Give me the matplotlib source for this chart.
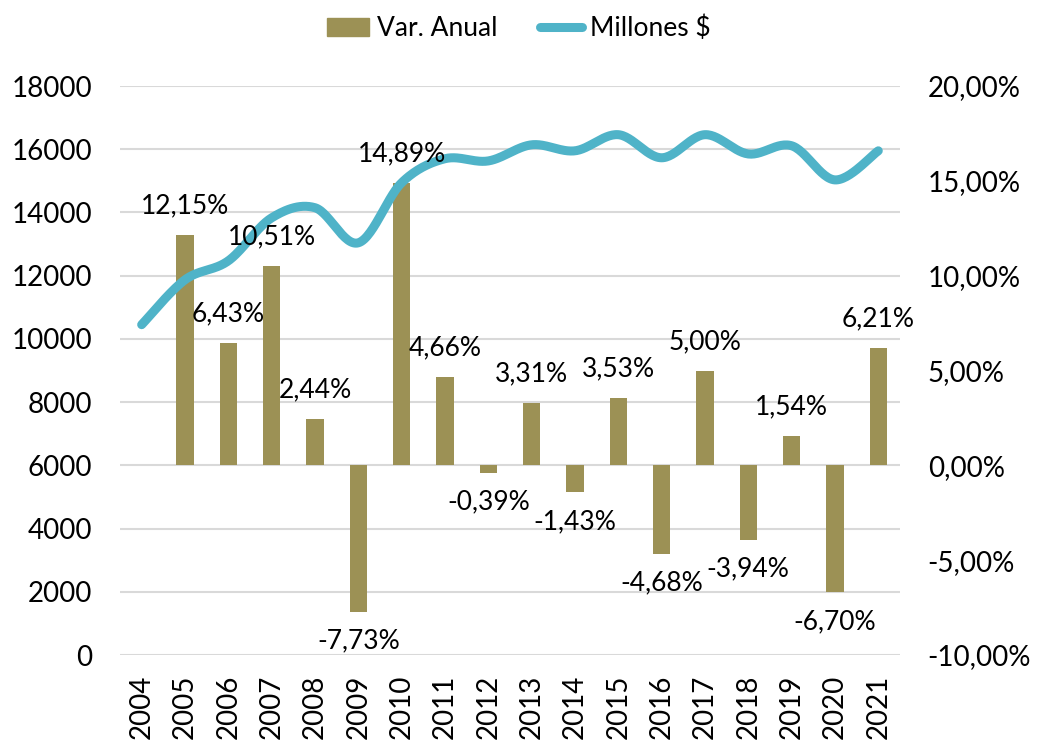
#!/usr/bin/env python3

import numpy as np
import matplotlib.pyplot as plt
from matplotlib.lines import Line2D
from matplotlib.patches import Patch

plt.rcParams['font.family'] = ['Lato', 'DejaVu Sans']

years = [str(y) for y in range(2004, 2022)]
millones = [10450, 11870, 12470, 13830, 14150, 13040, 14940, 15700, 15630,
            16140, 15950, 16460, 15730, 16460, 15850, 16110, 15030, 15950]
var_anual = [None, 12.15, 6.43, 10.51, 2.44, -7.73, 14.89, 4.66, -0.39,
             3.31, -1.43, 3.53, -4.68, 5.00, -3.94, 1.54, -6.70, 6.21]

BAR = '#9c9155'
LINE = '#4fb3c8'
GRID = '#d9d9d9'
FS = 20


def smooth(x, y, n=30):
    # catmull-rom through the points, like excel's smoothed line
    x = np.asarray(x, float)
    y = np.asarray(y, float)
    px = np.concatenate([[x[0]], x, [x[-1]]])
    py = np.concatenate([[y[0]], y, [y[-1]]])
    xs, ys = [], []
    t = np.linspace(0, 1, n)
    for i in range(1, len(px) - 2):
        p0, p1, p2, p3 = (np.array([px[j], py[j]]) for j in (i - 1, i, i + 1, i + 2))
        c1 = p1 + (p2 - p0) / 6
        c2 = p2 - (p3 - p1) / 6
        pts = ((1 - t) ** 3)[:, None] * p1 + (3 * (1 - t) ** 2 * t)[:, None] * c1 \
            + (3 * (1 - t) * t ** 2)[:, None] * c2 + (t ** 3)[:, None] * p2
        xs.extend(pts[:, 0])
        ys.extend(pts[:, 1])
    return xs, ys


def pct(v):
    return f'{v:.2f}%'.replace('.', ',')


def main():
    fig = plt.figure(figsize=(10.38, 7.44), dpi=100)
    ax = fig.add_axes([0.1156, 0.1196, 0.7514, 0.7648])
    ax_bar = ax.twinx()
    ax_line = ax.twinx()

    x = np.arange(len(years))

    # left axis with grid
    ax.set_ylim(0, 18000)
    ax.set_yticks(range(0, 18001, 2000))
    ax.grid(axis='y', color=GRID, linewidth=1.5)
    ax.set_xlim(-0.5, len(years) - 0.5)
    ax.set_xticks(x)
    ax.set_xticklabels(years, rotation=90, fontsize=FS)
    ax.tick_params(axis='y', length=0, labelsize=FS, pad=20)
    ax.tick_params(axis='x', length=0, pad=14)

    # bars on right axis
    bx = [i for i, v in zip(x, var_anual) if v is not None]
    bv = [v for v in var_anual if v is not None]
    ax_bar.bar(bx, bv, width=0.4, color=BAR)
    ax_bar.set_ylim(-10, 20)
    ax_bar.set_yticks(range(-10, 21, 5))
    ax_bar.set_yticklabels([pct(v) for v in range(-10, 21, 5)])
    ax_bar.tick_params(axis='y', length=0, labelsize=FS, pad=20)

    # smoothed line on left scale
    lx, ly = smooth(x, millones)
    ax_line.plot(lx, ly, color=LINE, linewidth=6.5, solid_capstyle='round')
    ax_line.set_ylim(0, 18000)
    ax_line.set_yticks([])

    # data labels on top of everything, placed with the bar scale
    for i, v in zip(bx, bv):
        y = ax_line.transData.inverted().transform(
            ax_bar.transData.transform((i, v)))[1]
        ax_line.annotate(pct(v), (i, y), xytext=(0, 21 if v >= 0 else -21),
                         textcoords='offset points', ha='center', va='center',
                         fontsize=FS - 1)

    for a in (ax, ax_bar, ax_line):
        for s in a.spines.values():
            s.set_visible(False)

    handles = [Patch(color=BAR), Line2D([], [], color=LINE, linewidth=6.5,
                                        solid_capstyle='round')]
    fig.legend(handles, ['Var. Anual', 'Millones $'], loc='center',
               bbox_to_anchor=(0.5, 0.962), ncol=2, frameon=False, fontsize=FS - 1,
               handlelength=1.6, handletextpad=0.3, columnspacing=1.6)

    fig.savefig('out.png')


if __name__ == '__main__':
    main()
